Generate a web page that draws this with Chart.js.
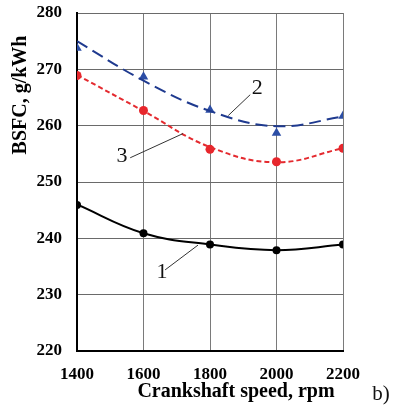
<!DOCTYPE html>
<html>
<head>
<meta charset="utf-8">
<script src="https://cdn.jsdelivr.net/npm/chart.js@4/dist/chart.umd.min.js"></script>
<style>
  html,body{margin:0;padding:0;background:#fff;}
  #c{display:block;}
</style>
</head>
<body>
<canvas id="c" width="397" height="406"></canvas>
<script>
// ---- data ----
const speeds = [1400, 1600, 1800, 2000, 2200];
// measured points
const bsfc1 = [245.9, 240.9, 238.9, 237.9, 238.9];
const bsfc2 = [273.8, 268.7, 262.8, 258.7, 261.7];
const bsfc3 = [268.9, 262.7, 255.8, 253.6, 256.0];
// drawn trend curves (at each speed)
const trend1 = [246.0, 240.9, 238.9, 237.9, 238.9];
const trend2 = [275.0, 268.0, 262.6, 259.9, 261.6];
const trend3 = [269.0, 262.6, 256.2, 253.5, 256.0];
const yTicks = [220, 230, 240, 250, 260, 270, 280];
const xTitle = 'Crankshaft speed, rpm';
const yTitle = 'BSFC, g/kWh';
// curve labels: [text, labelX, labelY, leaderFromX, leaderFromY, leaderToX, leaderToY] in data units
const curveLabels = [
  ['1', 1656, 234.0, 1665, 234.4, 1764, 238.8],
  ['2', 1942, 266.7, 1921, 265.5, 1855, 261.8],
  ['3', 1535, 254.6, 1560, 254.3, 1719, 258.6]
];
const panelLabel = 'b)';

const pts = (ys) => speeds.map((x, i) => ({x, y: ys[i]}));
const SERIF = "'Liberation Serif', 'Times New Roman', serif";

const annot = {
  id: 'annot',
  afterDatasetsDraw(chart) {
    const {ctx, scales: {x, y}} = chart;
    ctx.save();
    curveLabels.forEach(([t, lx, ly, fx, fy, tx, ty]) => {
      ctx.strokeStyle = '#333';
      ctx.lineWidth = 1;
      ctx.beginPath();
      ctx.moveTo(x.getPixelForValue(fx), y.getPixelForValue(fy));
      ctx.lineTo(x.getPixelForValue(tx), y.getPixelForValue(ty));
      ctx.stroke();
      ctx.fillStyle = '#111';
      ctx.font = '22px ' + SERIF;
      ctx.textAlign = 'center';
      ctx.textBaseline = 'middle';
      ctx.fillText(t, x.getPixelForValue(lx), y.getPixelForValue(ly));
    });
    ctx.fillStyle = '#000';
    ctx.font = 'bold 20px ' + SERIF;
    ctx.textAlign = 'center';
    ctx.textBaseline = 'middle';
    ctx.fillText(xTitle, 236, 392);
    ctx.save();
    ctx.translate(21, 95);
    ctx.rotate(-Math.PI / 2);
    ctx.fillText(yTitle, 0, 0);
    ctx.restore();
    ctx.font = '21px ' + SERIF;
    ctx.fillStyle = '#111';
    ctx.fillText(panelLabel, 381, 394);
    ctx.restore();
  }
};

const tickFont = {family: SERIF, weight: 'bold', size: 17};

new Chart(document.getElementById('c'), {
  type: 'line',
  data: {
    datasets: [
      {data: pts(trend1), borderColor: '#000', borderWidth: 2, pointRadius: 0, tension: 0.4, fill: false},
      {data: pts(trend2), borderColor: '#1f3a8f', borderWidth: 2, borderDash: [12, 6], pointRadius: 0, tension: 0.4, fill: false},
      {data: pts(trend3), borderColor: '#e42a2f', borderWidth: 2, borderDash: [5, 3], pointRadius: 0, tension: 0.4, fill: false},
      {data: pts(bsfc1), showLine: false, pointStyle: 'circle', pointRadius: 4, pointBackgroundColor: '#000', pointBorderColor: '#000', borderWidth: 0},
      {data: pts(bsfc2), showLine: false, pointStyle: 'triangle', pointRadius: 5.5, pointBackgroundColor: '#2c4ea6', pointBorderColor: '#2c4ea6', borderWidth: 0},
      {data: pts(bsfc3), showLine: false, pointStyle: 'circle', pointRadius: 4.5, pointBackgroundColor: '#e8262c', pointBorderColor: '#e8262c', borderWidth: 0}
    ]
  },
  options: {
    responsive: false,
    animation: false,
    devicePixelRatio: 1,
    layout: {padding: {top: 13, right: 54, left: 0, bottom: 0}},
    plugins: {legend: {display: false}, tooltip: {enabled: false}},
    scales: {
      x: {
        type: 'linear', min: speeds[0], max: speeds[speeds.length - 1],
        afterBuildTicks(s) { s.ticks = speeds.map(v => ({value: v})); },
        ticks: {font: tickFont, color: '#000', padding: 13, callback: v => String(v)},
        grid: {color: '#7a7a7a', lineWidth: 1, drawTicks: false},
        border: {color: '#000', width: 2},
        afterFit(s) { s.height = 55; s.paddingLeft = 0; s.paddingRight = 0; }
      },
      y: {
        min: yTicks[0], max: yTicks[yTicks.length - 1],
        afterBuildTicks(s) { s.ticks = yTicks.map(v => ({value: v})); },
        ticks: {font: tickFont, color: '#000', padding: 15, callback: v => String(v)},
        grid: {color: '#6a6a6a', lineWidth: 1, drawTicks: false},
        border: {color: '#000', width: 2},
        afterFit(s) { s.width = 77; s.paddingTop = 0; s.paddingBottom = 0; }
      }
    }
  },
  plugins: [annot]
});
</script>
</body>
</html>
